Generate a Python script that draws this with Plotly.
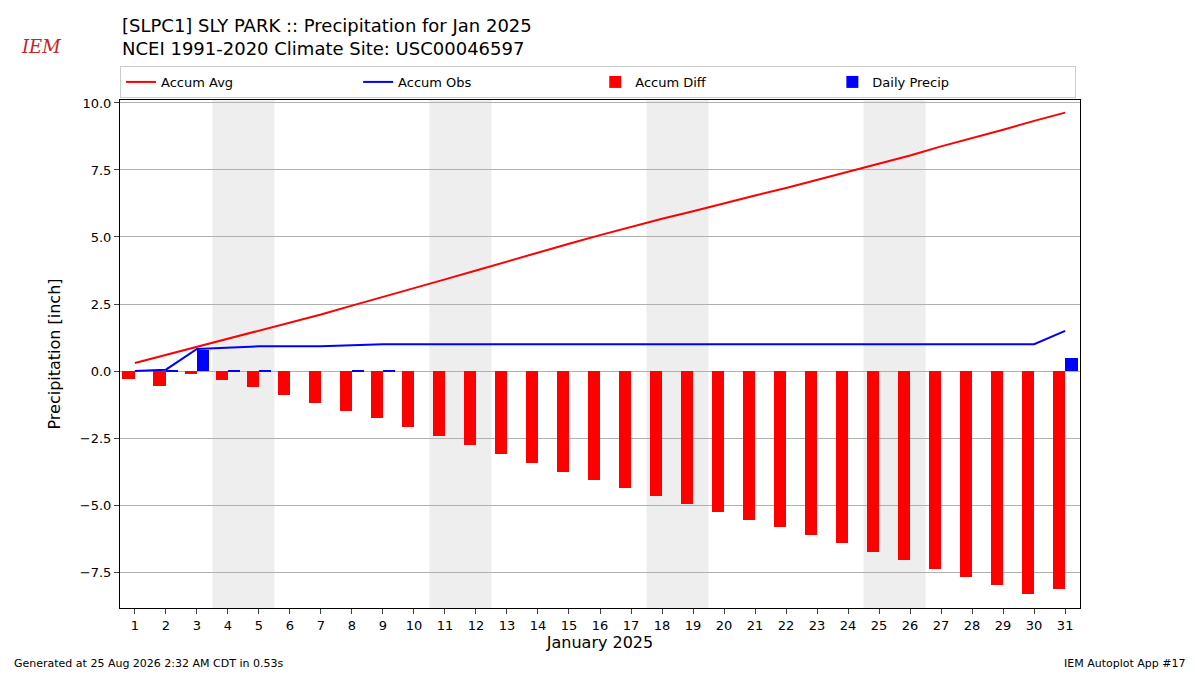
import plotly.graph_objects as go

days = list(range(1, 32))
accum_avg = [0.30, 0.60, 0.92, 1.20, 1.50, 1.80, 2.11, 2.44, 2.76, 3.09, 3.42, 3.75, 4.09, 4.42,
             4.75, 5.07, 5.38, 5.68, 5.96, 6.26, 6.55, 6.83, 7.13, 7.43, 7.75, 8.04, 8.38, 8.68,
             9.00, 9.33, 9.64]
accum_obs = [0.00, 0.05, 0.82, 0.87, 0.92, 0.92, 0.92, 0.96, 1.00, 1.00, 1.00, 1.00, 1.00, 1.00,
             1.00, 1.00, 1.00, 1.00, 1.00, 1.00, 1.00, 1.00, 1.00, 1.00, 1.00, 1.00, 1.00, 1.00,
             1.00, 1.00, 1.50]
accum_diff = [-0.30, -0.55, -0.10, -0.33, -0.58, -0.88, -1.19, -1.48, -1.76, -2.09, -2.42, -2.75,
              -3.09, -3.42, -3.75, -4.07, -4.38, -4.68, -4.96, -5.26, -5.55, -5.83, -6.13, -6.43,
              -6.75, -7.04, -7.38, -7.68, -8.00, -8.33, -8.14]
daily = [0.00, 0.05, 0.77, 0.05, 0.03, 0.00, 0.00, 0.02, 0.02, 0.00, 0.00, 0.00, 0.00, 0.00,
         0.00, 0.00, 0.00, 0.00, 0.00, 0.00, 0.00, 0.00, 0.00, 0.00, 0.00, 0.00, 0.00, 0.00,
         0.00, 0.00, 0.50]
weekends = [4, 11, 18, 25]

fig = go.Figure()
fig.add_trace(go.Scatter(x=days, y=accum_avg, mode="lines", name="Accum Avg",
                         line=dict(color="red", width=2)))
fig.add_trace(go.Scatter(x=days, y=accum_obs, mode="lines", name="Accum Obs",
                         line=dict(color="blue", width=2)))
fig.add_trace(go.Bar(x=days, y=accum_diff, name="Accum Diff", marker_color="red",
                     width=0.4, offset=-0.4, marker_line_width=0))
fig.add_trace(go.Bar(x=days, y=daily, name="Daily Precip", marker_color="blue",
                     width=0.4, offset=0, marker_line_width=0))

for d in weekends:
    fig.add_vrect(x0=d - 0.5, x1=d + 1.5, fillcolor="#eeeeee", line_width=0, layer="below")

fig.update_layout(
    width=1200, height=675, plot_bgcolor="white", paper_bgcolor="white",
    margin=dict(l=112, r=128, t=92, b=75, autoexpand=False),
    font=dict(family="DejaVu Sans", size=13, color="black"),
    barmode="overlay", bargap=0,
    legend=dict(orientation="h", x=0, y=1.004, xanchor="left", yanchor="bottom",
                entrywidth=0.247, entrywidthmode="fraction",
                bordercolor="#cccccc", borderwidth=1, font=dict(size=13)),
    xaxis=dict(range=[0.52, 31.48], tickmode="array", tickvals=days, ticks="outside",
               showgrid=False, showline=True, linecolor="black", mirror=True, automargin=False,
               title=dict(text="January 2025", font=dict(size=16), standoff=5)),
    yaxis=dict(range=[-8.84, 10.11], tickvals=[-7.5, -5, -2.5, 0, 2.5, 5, 7.5, 10],
               ticktext=["\u22127.5", "\u22125.0", "\u22122.5", "0.0", "2.5", "5.0", "7.5", "10.0"],
               ticks="outside", showgrid=True, gridcolor="#b0b0b0", zeroline=False, automargin=False,
               showline=True, linecolor="black", mirror=True,
               title=dict(text="Precipitation [inch]", font=dict(size=16))),
    annotations=[
        dict(text="[SLPC1] SLY PARK :: Precipitation for Jan 2025<br>NCEI 1991-2020 Climate Site: USC00046597",
             xref="paper", yref="paper", x=0, y=1.124, xanchor="left", yanchor="middle",
             align="left", showarrow=False, font=dict(size=18)),
        dict(text="Generated at 25 Aug 2026 2:32 AM CDT in 0.53s", xref="paper", yref="paper",
             x=-0.1125, y=-0.125, xanchor="left", yanchor="bottom", showarrow=False, font=dict(size=11)),
        dict(text="IEM Autoplot App #17", xref="paper", yref="paper", x=1.1125, y=-0.125,
             xanchor="right", yanchor="bottom", showarrow=False, font=dict(size=11)),
        dict(text="<i>IEM</i>", xref="paper", yref="paper", x=-0.105, y=1.13, xanchor="left",
             showarrow=False, font=dict(size=18, color="#cc2222", family="DejaVu Serif")),
    ],
)

fig.write_html("out.html")
